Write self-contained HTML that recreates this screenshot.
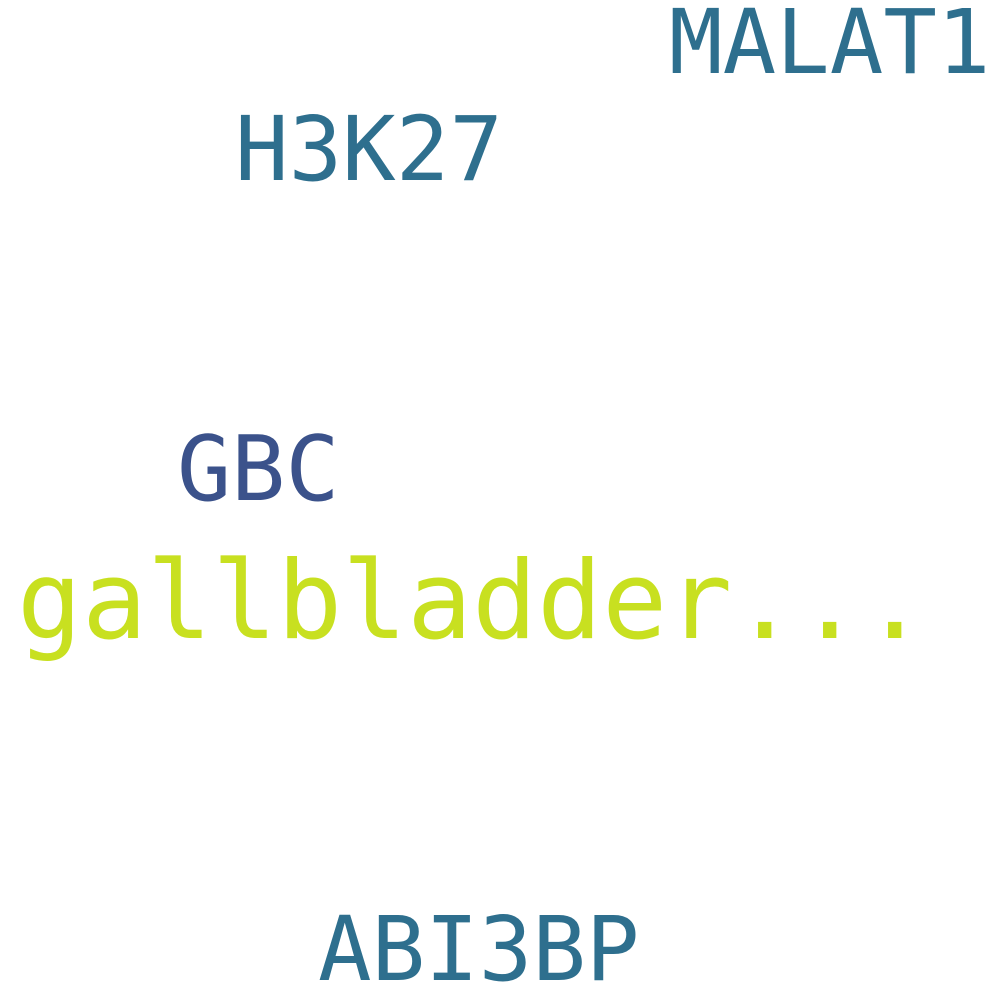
<!DOCTYPE html>
<html><head><meta charset="utf-8"><style>
html,body{margin:0;padding:0;background:#fff;}
svg{display:block;}
text{font-family:"DejaVu Sans Mono","Liberation Mono",monospace;}
</style></head><body>
<svg width="1000" height="1000" viewBox="0 0 1000 1000" xmlns="http://www.w3.org/2000/svg">
<rect width="1000" height="1000" fill="#fff"/>
<text x="669" y="73" font-size="89" fill="#2e6f8e">MALAT1</text>
<text x="235" y="180" font-size="89" fill="#2e6f8e">H3K27</text>
<text x="177" y="500" font-size="90" fill="#3b528b">GBC</text>
<text x="17" y="638" font-size="108" fill="#c8e020">gallbladder...</text>
<text x="318" y="980" font-size="89" fill="#2e6f8e">ABI3BP</text>
</svg>
</body></html>
